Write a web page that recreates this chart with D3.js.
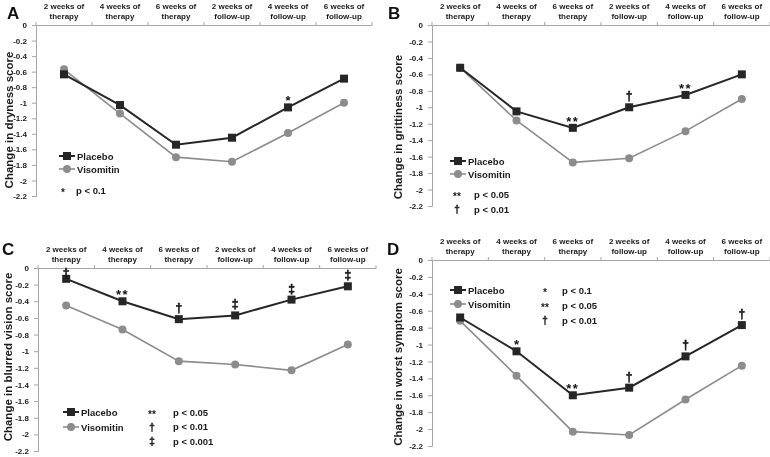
<!DOCTYPE html>
<html><head><meta charset="utf-8">
<script src="https://cdn.jsdelivr.net/npm/d3@7"></script>
<style>body{margin:0;background:#fff;}svg{display:block;font-family:"Liberation Sans",Arial,sans-serif;font-weight:bold;will-change:transform;}</style>
</head><body>
<svg id="chart" width="770" height="457"></svg>
<script>
// ---- data ----
const categories = [["2 weeks of","therapy"],["4 weeks of","therapy"],["6 weeks of","therapy"],["2 weeks of","follow-up"],["4 weeks of","follow-up"],["6 weeks of","follow-up"]];
const yTicks = [0,-0.2,-0.4,-0.6,-0.8,-1,-1.2,-1.4,-1.6,-1.8,-2,-2.2];
const yTickLabels = ["0","-0.2","-0.4","-0.6","-0.8","-1","-1.2","-1.4","-1.6","-1.8","-2","-2.2"];
const seriesNames = ["Placebo","Visomitin"];

const placeboA   = [-0.635,-1.03,-1.54,-1.45,-1.06,-0.69];
const visomitinA = [-0.57,-1.14,-1.70,-1.76,-1.39,-1.00];
const sigA = ["","","","","*",""];
const sigLegendA = [["*","p < 0.1"]];

const placeboB   = [-0.52,-1.05,-1.25,-1.00,-0.85,-0.60];
const visomitinB = [-0.52,-1.16,-1.67,-1.62,-1.29,-0.90];
const sigB = ["","","**","\u2020","**",""];
const sigLegendB = [["**","p < 0.05"],["\u2020","p < 0.01"]];

const placeboC   = [-0.13,-0.40,-0.615,-0.57,-0.38,-0.22];
const visomitinC = [-0.45,-0.74,-1.12,-1.16,-1.23,-0.92];
const sigC = ["\u2020","**","\u2020","\u2021","\u2021","\u2021"];
const sigLegendC = [["**","p < 0.05"],["\u2020","p < 0.01"],["\u2021","p < 0.001"]];

const placeboD   = [-0.68,-1.08,-1.60,-1.51,-1.14,-0.77];
const visomitinD = [-0.72,-1.37,-2.03,-2.07,-1.65,-1.25];
const sigD = ["","*","**","\u2020","\u2020","\u2020"];
const sigLegendD = [["*","p < 0.1"],["**","p < 0.05"],["\u2020","p < 0.01"]];

const yLabels = ["Change in dryness score","Change in grittiness score","Change in blurred vision score","Change in worst symptom  score"];
const panelLetters = ["A","B","C","D"];

// ---- layout ----
const panels = [
  {letter:panelLetters[0], ylab:yLabels[0], p:placeboA, v:visomitinA, sig:sigA, sigLeg:sigLegendA,
   x0:36, x1:372, top:25, bottom:196, labX:9, labY:120, letX:7, letY:19,
   leg:{x:59, y:156, dy:13}, sl:{sx:63, tx:76, y:190, dy:14}},
  {letter:panelLetters[1], ylab:yLabels[1], p:placeboB, v:visomitinB, sig:sigB, sigLeg:sigLegendB,
   x0:432, x1:770, top:25, bottom:206, labX:398, labY:127, letX:388, letY:19,
   leg:{x:450, y:161, dy:13}, sl:{sx:457, tx:474, y:194, dy:15}},
  {letter:panelLetters[2], ylab:yLabels[2], p:placeboC, v:visomitinC, sig:sigC, sigLeg:sigLegendC,
   x0:38, x1:376, top:268, bottom:451, labX:8, labY:357, letX:2, letY:255,
   leg:{x:63, y:412, dy:15}, sl:{sx:152, tx:173, y:412, dy:14.5}},
  {letter:panelLetters[3], ylab:yLabels[3], p:placeboD, v:visomitinD, sig:sigD, sigLeg:sigLegendD,
   x0:432, x1:770, top:260, bottom:446, labX:398, labY:357, letX:387, letY:255,
   leg:{x:450, y:290, dy:14}, sl:{sx:545, tx:562, y:290, dy:15}}
];

const svg = d3.select("#chart");
const dark = "#262626", grey = "#8c8c8c", axisCol = "#a6a6a6", txt = "#1a1a1a";

panels.forEach(P => {
  const g = svg.append("g");
  const band = d3.scaleBand().domain(d3.range(categories.length)).range([P.x0, P.x1]);
  const y = d3.scaleLinear().domain([0,-2.2]).range([P.top, P.bottom]);
  const cx = i => band(i) + band.bandwidth()/2;

  // top x axis
  const xa = d3.axisTop(band).tickSize(0).tickFormat("");
  g.append("g").attr("transform",`translate(0,${P.top})`).call(xa)
    .call(s => s.select(".domain").attr("stroke",axisCol).attr("stroke-width",1));
  // boundary ticks
  g.append("g").selectAll("line").data(d3.range(categories.length+1)).join("line")
    .attr("x1", i => i < categories.length ? band(i) : P.x1)
    .attr("x2", i => i < categories.length ? band(i) : P.x1)
    .attr("y1", P.top).attr("y2", P.top-3).attr("stroke",axisCol);
  // category labels
  categories.forEach((c,i) => {
    const t = g.append("text").attr("x", cx(i)).attr("text-anchor","middle")
      .attr("font-size", 8).attr("fill", txt);
    t.append("tspan").attr("x", cx(i)).attr("y", P.top-16).text(c[0]);
    t.append("tspan").attr("x", cx(i)).attr("y", P.top-6).text(c[1]);
  });

  // y axis
  const ya = d3.axisLeft(y).tickValues(yTicks).tickSize(4).tickPadding(5)
    .tickFormat((d,i) => yTickLabels[i]);
  g.append("g").attr("transform",`translate(${P.x0},0)`).call(ya)
    .call(s => {
      s.select(".domain").attr("stroke",axisCol);
      s.selectAll(".tick line").attr("stroke",axisCol);
      s.selectAll(".tick text").attr("fill",txt).attr("font-size",8)
        .attr("font-family","Liberation Sans, Arial, sans-serif").attr("font-weight","bold");
    });

  // y label
  g.append("text").attr("transform",`translate(${P.labX},${P.labY}) rotate(-90)`)
    .attr("text-anchor","middle").attr("dominant-baseline","central")
    .attr("font-size", 11.5).attr("fill", txt).text(P.ylab);

  // panel letter
  g.append("text").attr("x",P.letX).attr("y",P.letY).attr("font-size",17).attr("fill","#111").text(P.letter);

  // lines
  const line = d3.line().x((d,i)=>cx(i)).y(d=>y(d));
  g.append("path").datum(P.v).attr("d",line).attr("fill","none").attr("stroke",grey).attr("stroke-width",1.6);
  g.append("g").selectAll("circle").data(P.v).join("circle")
    .attr("cx",(d,i)=>cx(i)).attr("cy",d=>y(d)).attr("r",4).attr("fill",grey);
  g.append("path").datum(P.p).attr("d",line).attr("fill","none").attr("stroke",dark).attr("stroke-width",2);
  g.append("g").selectAll("rect").data(P.p).join("rect")
    .attr("x",(d,i)=>cx(i)-4).attr("y",d=>y(d)-4).attr("width",8).attr("height",8).attr("fill",dark);

  // significance marks
  P.sig.forEach((s,i) => {
    if (!s) return;
    const isStar = s[0] === "*";
    const by = isStar ? y(P.p[i]) - 2 : Math.max(y(P.p[i]) - 7, P.top + 9);
    g.append("text").attr("x",cx(i)).attr("y", by)
      .attr("text-anchor","middle").attr("font-size", isStar ? 13 : 12)
      .attr("letter-spacing", s === "**" ? 1.5 : 0)
      .attr("fill","#111").attr("stroke", isStar ? "none" : "#111").attr("stroke-width",0.5)
      .text(s);
  });

  // legend
  [[P.p, dark, "sq"],[P.v, grey, "ci"]].forEach((it,k) => {
    const ly = P.leg.y + k*P.leg.dy;
    g.append("line").attr("x1",P.leg.x).attr("x2",P.leg.x+16).attr("y1",ly).attr("y2",ly)
      .attr("stroke",it[1]).attr("stroke-width", k===0 ? 2 : 1.6);
    if (it[2]==="sq") g.append("rect").attr("x",P.leg.x+4).attr("y",ly-4).attr("width",8).attr("height",8).attr("fill",it[1]);
    else g.append("circle").attr("cx",P.leg.x+8).attr("cy",ly).attr("r",4).attr("fill",it[1]);
    g.append("text").attr("x",P.leg.x+18).attr("y",ly).attr("dominant-baseline","central")
      .attr("font-size",9.5).attr("fill",txt).text(seriesNames[k]);
  });
  P.sigLeg.forEach((s,k) => {
    const ly = P.sl.y + k*P.sl.dy;
    const isStar = s[0][0] === "*";
    g.append("text").attr("x",P.sl.sx).attr("y", ly + (isStar ? 6 : 4)).attr("text-anchor","middle")
      .attr("font-size", 10).attr("fill",txt)
      .attr("stroke", isStar ? "none" : txt).attr("stroke-width",0.4).text(s[0]);
    g.append("text").attr("x",P.sl.tx).attr("y",ly).attr("dominant-baseline","central")
      .attr("font-size",9.5).attr("fill",txt).text(s[1]);
  });
});
</script>
</body></html>
